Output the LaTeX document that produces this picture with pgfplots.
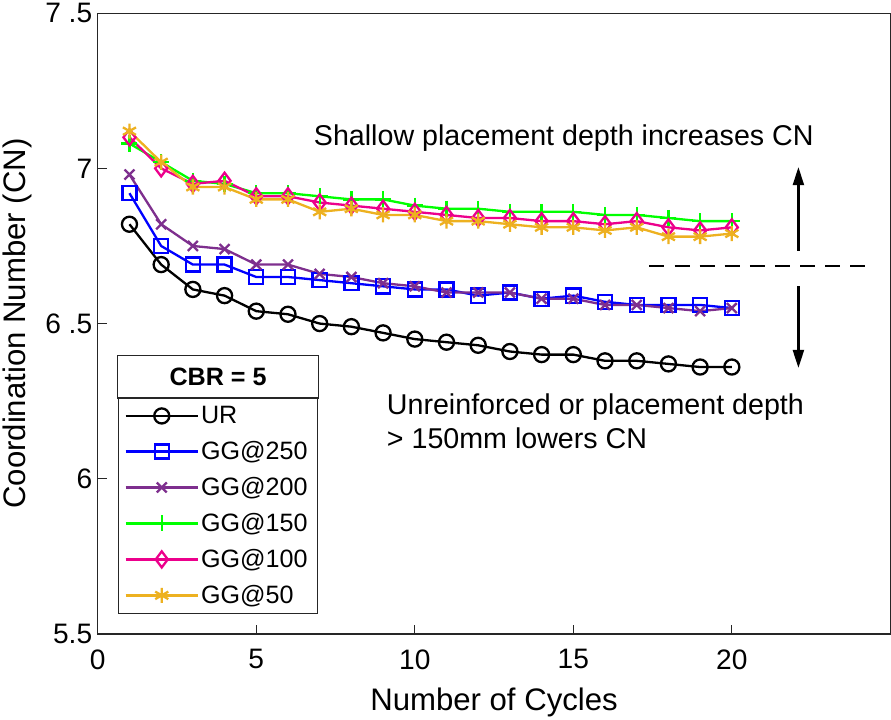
\documentclass[border=0pt]{standalone}
\usepackage{pgfplots}
\pgfplotsset{compat=1.18}
\usepackage{fontspec}
\setmainfont{Liberation Sans}
\usetikzlibrary{arrows.meta}
\definecolor{mpurple}{rgb}{0.494,0.184,0.557}
\definecolor{morange}{rgb}{0.929,0.694,0.125}
\definecolor{axgray}{rgb}{0.15,0.15,0.15}
\begin{document}
\begin{tikzpicture}
\begin{axis}[
  scale only axis, width=789pt, height=618pt,
  xmin=0, xmax=25, ymin=5.5, ymax=7.5,
  xtick={0,5,10,15,20},
  ytick={5.5,6,6.5,7,7.5},
  yticklabels={5.5,6,6 .5,7,7 .5},
  xtick pos=bottom, ytick pos=left,
  tick align=inside, major tick length=9pt,
  axis line style={axgray, line width=1.3pt},
  every tick/.style={axgray, line width=1.3pt},
  /pgf/number format/assume math mode=true,
  tick label style={font=\fontsize{28}{32}\selectfont},
  yticklabel style={xshift=-2pt},
  xticklabel shift=12pt,
  xlabel={Number of Cycles}, ylabel={Coordination Number (CN)},
  label style={font=\fontsize{31}{35}\selectfont},
  xlabel style={yshift=-11pt},
  ylabel style={yshift=6pt},
  legend cell align=left,
  legend style={name=LEG, at={(0.0253,0.0324)}, anchor=south west,
    draw=axgray, line width=1.2pt, font=\fontsize{25}{29}\selectfont,
    row sep=12.2pt, inner sep=6pt},
  legend image code/.code={\draw[mark repeat=2,mark phase=2] plot coordinates {(0pt,0pt) (36pt,0pt) (72pt,0pt)};},
  every axis plot/.append style={line width=2.3pt},
]
\addplot[black, mark=o, mark size=7.5pt, mark options={line width=2.3pt}] coordinates {
(1,6.82)(2,6.69)(3,6.61)(4,6.59)(5,6.54)(6,6.53)(7,6.50)(8,6.49)(9,6.47)(10,6.45)
(11,6.44)(12,6.43)(13,6.41)(14,6.40)(15,6.40)(16,6.38)(17,6.38)(18,6.37)(19,6.36)(20,6.36)};
\addlegendentry{\makebox[108pt][l]{UR}}
\addplot[blue, mark=square, mark size=7pt, mark options={line width=2.3pt}] coordinates {
(1,6.92)(2,6.75)(3,6.69)(4,6.69)(5,6.65)(6,6.65)(7,6.64)(8,6.63)(9,6.62)(10,6.61)
(11,6.61)(12,6.59)(13,6.60)(14,6.58)(15,6.59)(16,6.57)(17,6.56)(18,6.56)(19,6.56)(20,6.55)};
\addlegendentry{GG@250}
\addplot[mpurple, mark=x, mark size=7pt, mark options={line width=2.3pt}] coordinates {
(1,6.98)(2,6.82)(3,6.75)(4,6.74)(5,6.69)(6,6.69)(7,6.66)(8,6.65)(9,6.63)(10,6.62)
(11,6.60)(12,6.60)(13,6.60)(14,6.58)(15,6.58)(16,6.56)(17,6.56)(18,6.55)(19,6.54)(20,6.55)};
\addlegendentry{GG@200}
\addplot[green, mark=+, mark size=8pt, mark options={line width=2.3pt}] coordinates {
(1,7.08)(2,7.02)(3,6.96)(4,6.95)(5,6.92)(6,6.92)(7,6.91)(8,6.90)(9,6.90)(10,6.88)
(11,6.87)(12,6.87)(13,6.86)(14,6.86)(15,6.86)(16,6.85)(17,6.85)(18,6.84)(19,6.83)(20,6.83)};
\addlegendentry{GG@150}
\addplot[magenta, mark=diamond, mark size=8pt, mark options={line width=2.3pt}] coordinates {
(1,7.10)(2,7.00)(3,6.95)(4,6.96)(5,6.91)(6,6.91)(7,6.89)(8,6.88)(9,6.87)(10,6.86)
(11,6.85)(12,6.84)(13,6.84)(14,6.83)(15,6.83)(16,6.82)(17,6.83)(18,6.81)(19,6.80)(20,6.81)};
\addlegendentry{GG@100}
\addplot[morange, mark=asterisk, mark size=7.5pt, mark options={line width=2.3pt}] coordinates {
(1,7.12)(2,7.02)(3,6.94)(4,6.94)(5,6.90)(6,6.90)(7,6.86)(8,6.87)(9,6.85)(10,6.85)
(11,6.83)(12,6.83)(13,6.82)(14,6.81)(15,6.81)(16,6.80)(17,6.81)(18,6.78)(19,6.78)(20,6.79)};
\addlegendentry{GG@50}
\node[font=\fontsize{28.5}{33}\selectfont, anchor=base] at (axis cs:14.70,7.0728) {Shallow placement depth increases CN};
\node[font=\fontsize{28.5}{33}\selectfont, anchor=base west] at (axis cs:9.01,6.2055) {Unreinforced or placement depth};
\node[font=\fontsize{28.5}{33}\selectfont, anchor=base west] at (axis cs:9.01,6.0987) {> 150mm lowers CN};
\draw[black, line width=2.6pt, dash pattern=on 15pt off 10pt] (axis cs:17.4,6.685) -- (axis cs:24.3,6.685);
\draw[black, line width=2.2pt, -{Triangle[length=18pt,width=11pt]}] (axis cs:22.1,6.734) -- (axis cs:22.1,7.004);
\draw[black, line width=2.2pt, -{Triangle[length=18pt,width=11pt]}] (axis cs:22.1,6.62) -- (axis cs:22.1,6.357);
\end{axis}
\draw[axgray, line width=1.2pt, fill=white] (LEG.north west) rectangle ([yshift=42pt]LEG.north east);
\node[font=\fontsize{25}{29}\selectfont\bfseries] at ([yshift=21pt]LEG.north) {CBR = 5};
\end{tikzpicture}
\end{document}
